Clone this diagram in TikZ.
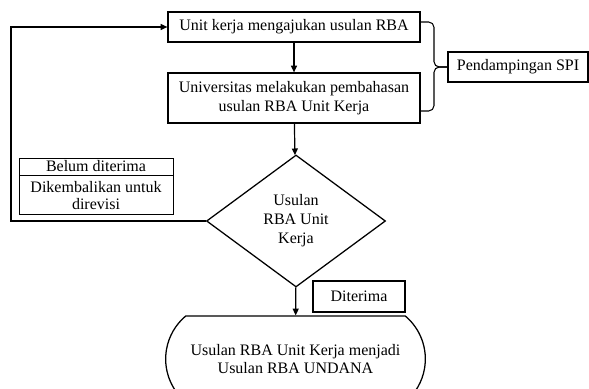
\documentclass[tikz,border=0pt]{standalone}
\usepackage{fontspec}
\setmainfont{Liberation Serif}
\usetikzlibrary{arrows.meta, positioning, shapes.geometric, shapes.misc}

\begin{document}
\begin{tikzpicture}[x=0.75pt, y=-0.75pt, font=\fontsize{12}{14.3}\selectfont,
    box/.style={draw, line width=0.95pt, inner sep=2pt, align=center},
    arr/.style={-{Triangle[length=5pt, width=4.5pt]}, line width=0.9pt}]
    \useasboundingbox (0,0) rectangle (589,389);
    % main flow
    \node[box, minimum width=189pt, minimum height=22.5pt] (usul) at (294,27) {Unit kerja mengajukan usulan RBA};
    \node[box, minimum width=189pt, minimum height=37.5pt] (bahas) at (294,98) {Universitas melakukan pembahasan\\usulan RBA Unit Kerja};
    \node[box, diamond, minimum width=134.25pt, minimum height=99pt, inner sep=0pt] (cek) at (296,221) {Usulan\\RBA Unit\\Kerja};
    \node[box, rounded rectangle, rounded rectangle arc length=100, minimum width=198.75pt, minimum height=64.5pt, font=\fontsize{12}{13.5}\selectfont] (hasil) at (295.5,359) {Usulan RBA Unit Kerja menjadi\\Usulan RBA UNDANA};
    \draw[arr] (usul) -- (bahas);
    \draw[arr] (bahas) -- (cek);
    \draw[arr] (cek) -- (hasil);
    % pendampingan
    \node[box, minimum width=105pt, minimum height=22.5pt] (spi) at (518,67) {Pendampingan SPI};
    \coordinate (kurung) at (434,67);
    \draw[line width=0.8pt, rounded corners=4pt] ([yshift=3.75pt]usul.east) -| (kurung) -- (spi.west);
    \draw[line width=0.8pt, rounded corners=4pt] ([yshift=-9.75pt]bahas.east) -| (kurung) -- (spi.west);
    % labels
    \node[box, minimum width=69pt, minimum height=23.25pt] (terima) at (359,296.5) {Diterima};
    \node[draw, line width=0.5pt, minimum width=115.5pt, minimum height=12.75pt, inner sep=1pt] (belum) at (96,166.5) {Belum diterima};
    \node[draw, line width=0.5pt, minimum width=115.5pt, minimum height=29.25pt, inner sep=1pt, align=center, below=0pt of belum, font=\fontsize{12}{12.75}\selectfont] (kembali) {Dikembalikan untuk\\direvisi};
    % feedback
    \coordinate (balik) at (11,27);
    \draw[arr] (cek.west) -| (balik) -- (usul.west);
\end{tikzpicture}
\end{document}
